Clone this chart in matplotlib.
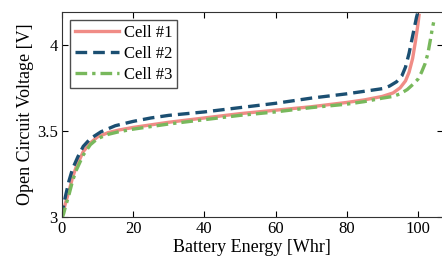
import matplotlib
matplotlib.use("Agg")
import matplotlib.pyplot as plt

# battery energy [Whr] vs open circuit voltage [V] for three cells
e1 = [0, 0.5, 1, 2, 3, 4, 6, 8, 10, 13, 16, 20, 25, 30, 40, 50, 60, 70, 80, 85, 90, 93, 95, 96.5, 97.5, 98.5, 99.3, 100, 100.3]
v1 = [3.00, 3.04, 3.08, 3.15, 3.23, 3.29, 3.38, 3.43, 3.465, 3.49, 3.505, 3.52, 3.535, 3.55, 3.575, 3.60, 3.62, 3.64, 3.665, 3.68, 3.70, 3.72, 3.75, 3.79, 3.84, 3.92, 4.02, 4.12, 4.17]

e2 = [0, 0.5, 1, 2, 3, 4.5, 6, 8, 11, 15, 20, 25, 30, 40, 50, 60, 70, 80, 85, 90, 92, 94, 95.5, 96.5, 97.5, 98.3, 99, 99.6, 100]
v2 = [3.00, 3.07, 3.12, 3.21, 3.28, 3.35, 3.41, 3.455, 3.495, 3.53, 3.555, 3.575, 3.59, 3.61, 3.635, 3.66, 3.69, 3.715, 3.73, 3.745, 3.76, 3.785, 3.82, 3.87, 3.95, 4.03, 4.10, 4.16, 4.19]

e3 = [0, 0.5, 1, 2, 3, 4, 6, 8, 10, 13, 16, 20, 25, 30, 40, 50, 60, 70, 80, 85, 90, 93, 95, 97, 98.6, 100, 101, 102, 102.8, 103.5, 104, 104.4]
v3 = [2.99, 3.02, 3.06, 3.13, 3.21, 3.27, 3.36, 3.42, 3.455, 3.48, 3.495, 3.51, 3.525, 3.54, 3.565, 3.59, 3.61, 3.635, 3.655, 3.67, 3.69, 3.70, 3.715, 3.74, 3.77, 3.80, 3.84, 3.89, 3.95, 4.03, 4.09, 4.13]

labels = ["Cell #1", "Cell #2", "Cell #3"]
xticks = [0, 20, 40, 60, 80, 100]
yticks = [3, 3.5, 4]
ytick_labels = ["3", "3.5", "4"]

plt.rcParams["font.family"] = "Liberation Serif"

fig = plt.figure(figsize=(4.42, 2.66), dpi=100)
ax = fig.add_axes([0.140, 0.184, 0.862, 0.771])

ax.plot(e1, v1, color="#F08C86", lw=2.4, ls="-", label=labels[0])
ax.plot(e2, v2, color="#1B4F72", lw=2.4, ls=(0, (3.5, 1.8)), label=labels[1])
ax.plot(e3, v3, color="#78B85C", lw=2.4, ls=(0, (3.5, 1.5, 1, 1.5)), label=labels[2])

ax.set_xlim(0, 107)
ax.set_ylim(3, 4.19)
ax.set_xticks(xticks)
ax.set_yticks(yticks)
ax.set_yticklabels(ytick_labels)
ax.tick_params(direction="in", length=4, top=True, right=True, labelsize=12, pad=3)
for s in ax.spines.values():
    s.set_color("#333333")

ax.set_xlabel("Battery Energy [Whr]", fontsize=13, labelpad=1)
ax.set_ylabel("Open Circuit Voltage [V]", fontsize=13, labelpad=2)

leg = ax.legend(loc="upper left", fontsize=12, frameon=True, fancybox=False,
                edgecolor="#222222", handlelength=2.6, borderpad=0.3,
                labelspacing=0.3, handletextpad=0.3, borderaxespad=0.5)
leg.get_frame().set_linewidth(1.0)

fig.savefig("out.png", dpi=100)
